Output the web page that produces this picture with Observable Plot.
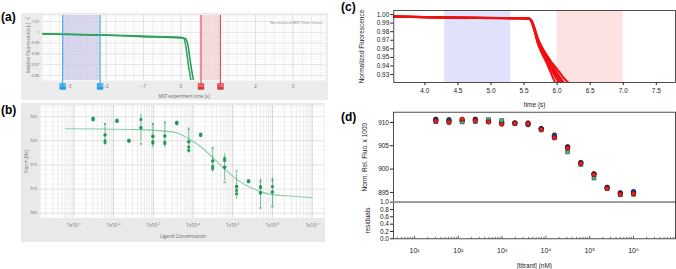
<!DOCTYPE html>
<html><head><meta charset="utf-8">
<script src="https://cdn.jsdelivr.net/npm/d3@7"></script>
<script src="https://cdn.jsdelivr.net/npm/@observablehq/plot@0.6"></script>
<style>
body{margin:0;background:#fff;}
#root{position:relative;width:676px;height:269px;overflow:hidden;background:#fff;}
#root svg{max-width:none !important;height:auto;}
.plabel{position:absolute;font:bold 12px "Liberation Sans",Arial,sans-serif;color:#000;line-height:12px;}
</style></head><body><div id="root"></div>
<script>
// ---------------- Panel (a): normalized MST time traces ----------------
const aTimeA = [-3.7, -3, -2, -1, 0, 0.06, 0.10, 0.13, 0.17, 0.21, 0.25, 0.29, 0.33];
const aValA  = [0.9988, 0.9983, 0.9975, 0.9965, 0.9955, 0.9950, 0.9930, 0.9880, 0.9780, 0.9680, 0.9600, 0.9520, 0.9440];
const aTimeB = [-3.7, -3, -2, -1, 0, 0.12, 0.17, 0.20, 0.24, 0.28, 0.32, 0.37, 0.41];
const aValB  = [0.9985, 0.9980, 0.9972, 0.9960, 0.9948, 0.9944, 0.9910, 0.9860, 0.9760, 0.9670, 0.9590, 0.9510, 0.9440];
const aCold = [-3.16, -2.16];
const aHot = [0.54, 1.06];
const aXTicks = [-3, -2, -1, 0, 1, 2, 3];
const aXLabels = [-3, -2, -1, 0, 2, 3];
const aYTicks = [0.96, 0.97, 0.98, 0.99, 1, 1.01];

// ---------------- Panel (b): dose response (Fnorm) ----------------
const concNM = [30.52, 61.04, 122.1, 244.1, 488.3, 976.6, 1953, 3906, 7813, 15625, 31250, 62500, 125000, 250000, 500000, 1000000];
const bMean = [924.5, 921.2, 924.1, 920.0, 922.7, 920.9, 921.0, 923.7, 919.8, 921.2, 915.8, 914.5, 910.5, 911.6, 909.2, 909.4];
const bErr  = [0.3, 2.1, 0.3, 0.2, 2.8, 2.4, 2.5, 0.4, 2.4, 0.3, 2.4, 2.8, 2.6, 0.2, 2.9, 2.9];
const bReps = [
  [924.7, 924.3], [923.5, 920.0, 919.6], [924.3, 924.0], [920.1, 919.9],
  [924.4, 919.4], [923.5, 919.8, 919.5], [923.8, 919.7, 919.4], [923.8, 923.5],
  [922.5, 918.7, 918.0], [921.4, 921.1], [918.5, 914.7, 914.2], [916.3, 915.9, 911.4],
  [913.7, 909.7, 909.0], [911.7, 911.5], [911.6, 910.5, 910.3, 906.1], [911.8, 910.5, 906.4]
];
const bFitLogC = [0.79, 1.7, 2.7, 3.3, 3.6, 3.9, 4.25, 4.65, 5.1, 5.5, 5.9, 6.35, 7.0];
const bFitVal  = [922.5, 922.45, 922.3, 922.0, 921.6, 920.4, 918.4, 915.3, 912.0, 910.1, 909.0, 908.6, 908.2];
const bXTicks = [1e1, 1e2, 1e3, 1e4, 1e5, 1e6, 1e7];
const bYTicks = [905, 910, 915, 920, 925];

// ---------------- Panel (c): normalized fluorescence traces ----------------
const cTime = [3.53, 4.0, 4.5, 5.0, 5.5, 5.58, 5.62, 5.66, 5.70, 5.75, 5.80, 5.85, 5.90, 5.95, 6.00, 6.05, 6.10, 6.15, 6.20];
const cTr1 = [0.9977, 0.9970, 0.9964, 0.9960, 0.9956, 0.9950, 0.9900, 0.9800, 0.9680, 0.9580, 0.9500, 0.9420, 0.9330, 0.9240, 0.9160, 0.9080, 0.9000, 0.8930, 0.8860];
const cTr2 = [0.9976, 0.9969, 0.9963, 0.9959, 0.9955, 0.9951, 0.9905, 0.9810, 0.9700, 0.9605, 0.9530, 0.9455, 0.9380, 0.9305, 0.9235, 0.9170, 0.9105, 0.9040, 0.8980];
const cTr3 = [0.9978, 0.9971, 0.9965, 0.9961, 0.9957, 0.9952, 0.9910, 0.9820, 0.9715, 0.9620, 0.9550, 0.9480, 0.9410, 0.9345, 0.9280, 0.9220, 0.9160, 0.9100, 0.9045];
const cTr4 = [0.9975, 0.9968, 0.9962, 0.9958, 0.9954, 0.9950, 0.9915, 0.9830, 0.9725, 0.9635, 0.9565, 0.9500, 0.9435, 0.9375, 0.9315, 0.9260, 0.9205, 0.9155, 0.9105];
const cTr5 = [0.9977, 0.9970, 0.9964, 0.9960, 0.9956, 0.9953, 0.9920, 0.9840, 0.9740, 0.9650, 0.9580, 0.9520, 0.9460, 0.9410, 0.9360, 0.9310, 0.9260, 0.9220, 0.9180];
const cGr1 = [0.9976, 0.9969, 0.9963, 0.9959, 0.9955, 0.9951, 0.9907, 0.9815, 0.9708, 0.9612, 0.9540, 0.9468, 0.9395, 0.9325, 0.9258, 0.9195, 0.9132, 0.9070, 0.9012];
const cGr2 = [0.9976, 0.9969, 0.9963, 0.9959, 0.9955, 0.9951, 0.9912, 0.9825, 0.9720, 0.9628, 0.9558, 0.9490, 0.9422, 0.9360, 0.9298, 0.9240, 0.9182, 0.9128, 0.9075];
const cBlueBand = [4.3, 5.3];
const cRedBand = [6.0, 7.0];
const cXTicks = [4.0, 4.5, 5.0, 5.5, 6.0, 6.5, 7.0, 7.5];
const cYTicks = [0.93, 0.94, 0.95, 0.96, 0.97, 0.98, 0.99, 1.00];

// ---------------- Panel (d): binding curves & residuals ----------------
const dBlack = [910.7, 910.4, 910.5, 910.7, 910.2, 909.9, 909.9, 909.9, 908.7, 907.0, 904.8, 901.4, 899.0, 896.1, 894.9, 895.0];
const dBlue  = [910.5, 910.6, 910.3, 910.5, 910.3, 910.1, 909.9, 909.5, 908.6, 907.3, 904.6, 901.3, 898.9, 896.0, 894.8, 895.2];
const dGreen = [910.2, 910.1, 910.1, 910.2, 910.6, 910.4, 909.8, 909.7, 908.4, 906.8, 903.7, 901.0, 898.1, 895.8, 894.5, 894.6];
const dRed   = [910.3, 910.0, 910.7, 910.4, 910.1, 909.6, 909.8, 909.8, 908.5, 906.7, 904.5, 901.2, 898.8, 895.9, 894.6, 894.7];
const dYTicks = [895, 900, 905, 910];
const dResTicks = [0, 0.2, 0.4, 0.6, 0.8, 1.0];
const dXTicks = [1e1, 1e2, 1e3, 1e4, 1e5, 1e6];

// ---------------- helpers ----------------
const root = document.getElementById("root");
function place(el, left, top, w, h) {
  el.style.position = "absolute"; el.style.left = left + "px"; el.style.top = top + "px";
  el.style.width = w + "px"; el.style.height = h + "px";
  root.appendChild(el);
}
function plabel(t, left, top) {
  const d = document.createElement("div"); d.className = "plabel"; d.textContent = t;
  d.style.left = left + "px"; d.style.top = top + "px"; root.appendChild(d);
}
const supMap = {"0":"⁰","1":"¹","2":"²","3":"³","4":"⁴","5":"⁵","6":"⁶","7":"⁷","8":"⁸","9":"⁹","+":"⁺","-":"⁻"};
const sup = s => String(s).split("").map(c => supMap[c] || c).join("");
function logMinors(e0, e1) {
  const out = [];
  for (let e = e0; e <= e1; e++) for (let k = 2; k <= 9; k++) out.push(k * Math.pow(10, e));
  return out;
}
const zip = (xs, ys) => xs.map((x, i) => ({x, y: ys[i]}));

// ---------------- Panel (a) ----------------
const aGreen = "#1f9a52";
const aPlot = Plot.plot({
  width: 307, height: 87, marginLeft: 21, marginRight: 3, marginTop: 2, marginBottom: 20,
  x: {domain: [-3.7, 3.87]},
  y: {domain: [0.9554, 1.0156]},
  style: {background: "#ececec", fontFamily: "'Open Sans', 'Noto Sans', sans-serif", fontSize: "4px", color: "#666", overflow: "visible"},
  marks: [
    Plot.frame({fill: "white", stroke: null}),
    Plot.gridX(d3.range(-3.5, 3.9, 0.25), {stroke: "#e2e2e2", strokeOpacity: 1, strokeWidth: 0.6}),
    Plot.gridY(d3.range(0.9575, 1.016, 0.0025), {stroke: "#ececec", strokeOpacity: 1, strokeWidth: 0.5}),
    Plot.gridY(aYTicks, {stroke: "#d6d6d6", strokeOpacity: 1, strokeWidth: 0.6}),
    Plot.gridX(aXTicks, {stroke: "#d6d6d6", strokeOpacity: 1, strokeWidth: 0.6}),
    Plot.rect([{x1: aCold[0], x2: aCold[1]}], {x1: "x1", x2: "x2", fill: "#cfcde9", fillOpacity: 0.8}),
    Plot.rect([{x1: aHot[0], x2: aHot[1]}], {x1: "x1", x2: "x2", fill: "#f3d5d7", fillOpacity: 0.8}),
    Plot.line(zip(aTimeB, aValB), {x: "x", y: "y", stroke: aGreen, strokeWidth: 1.5, clip: true, curve: "monotone-x"}),
    Plot.line(zip(aTimeA, aValA), {x: "x", y: "y", stroke: "#2aa35c", strokeWidth: 1.5, clip: true, curve: "monotone-x"}),
    Plot.ruleX(aCold, {stroke: "#3fa6e3", strokeWidth: 1.1, insetBottom: -4}),
    Plot.ruleX(aHot, {stroke: "#dc4e52", strokeWidth: 1.1, insetBottom: -4}),
    Plot.axisY(aYTicks, {tickSize: 0, tickPadding: 3.2, tickFormat: d3.format("~g"), fontSize: 4}),
    Plot.axisY({ticks: [], tickSize: 0, label: "Relative Fluorescence [-]", labelAnchor: "center", labelArrow: "none", labelOffset: 15.8, fontSize: 4.5}),
    Plot.axisX(aXLabels, {tickSize: 0, tickPadding: 4, label: "MST experiment time [s]", labelAnchor: "center", labelArrow: "none", labelOffset: 17, fontSize: 4.5}),
    Plot.dot(aCold, {x: d => d, frameAnchor: "bottom", dy: 6, symbol: "square", r: 3.6, fill: "#1e9ce4"}),
    Plot.dot(aHot, {x: d => d, frameAnchor: "bottom", dy: 6, symbol: "square", r: 3.6, fill: "#d8343c"}),
    Plot.text(aCold, {x: d => d, text: d => d.toFixed(2), frameAnchor: "bottom", dy: 6, fontSize: 2.6, fill: "#eaf6ff"}),
    Plot.text(aHot, {x: d => d, text: d => d.toFixed(2), frameAnchor: "bottom", dy: 6, fontSize: 2.6, fill: "#ffecec"}),
    Plot.text(["Normalized MST time traces"], {frameAnchor: "top-right", dx: -3, dy: 6, fontSize: 4, fill: "#888"})
  ]
});
place(aPlot, 21, 13, 307, 87);

// ---------------- Panel (b) ----------------
const bGreen = "#1e9a55";
const bCols = concNM.map((c, i) => ({c, m: bMean[i], e: bErr[i]}));
const bRepPts = concNM.flatMap((c, i) => bReps[i].map(v => ({c, v, far: Math.abs(v - bMean[i]) > 1.8})));
const bPlot = Plot.plot({
  width: 304, height: 139, marginLeft: 19, marginRight: 0, marginTop: 2, marginBottom: 24.7,
  x: {type: "log", domain: [Math.pow(10, 0.161), Math.pow(10, 7.335)]},
  y: {domain: [904.05, 927.3]},
  style: {background: "#e9e9e9", fontFamily: "'Open Sans', 'Noto Sans', sans-serif", fontSize: "4px", color: "#666", overflow: "visible"},
  marks: [
    Plot.frame({fill: "white", stroke: null}),
    Plot.gridY(d3.range(905, 928, 1), {stroke: "#ececec", strokeOpacity: 1, strokeWidth: 0.5}),
    Plot.gridY(bYTicks, {stroke: "#d8d8d8", strokeOpacity: 1, strokeWidth: 0.6}),
    Plot.gridX(logMinors(0, 7).filter(v => v < Math.pow(10, 7.335)), {stroke: "#dedede", strokeOpacity: 1, strokeWidth: 0.6}),
    Plot.gridX(bXTicks, {stroke: "#c4c4c4", strokeOpacity: 1, strokeWidth: 0.7}),
    Plot.line(zip(bFitLogC, bFitVal), {x: d => Math.pow(10, d.x), y: "y", stroke: "#84cfa9", strokeWidth: 1.1, curve: "natural"}),
    Plot.ruleX(bCols, {x: "c", y1: d => d.m - d.e, y2: d => d.m + d.e, stroke: bGreen, strokeWidth: 0.6}),
    Plot.dot(bRepPts, {x: "c", y: "v", symbol: d => d.far ? "times" : "square", r: 1.15, fill: bGreen, stroke: bGreen, strokeWidth: 0.7}),
    Plot.dot(bCols, {x: "c", y: "m", r: 1.8, fill: bGreen}),
    Plot.axisY(bYTicks, {tickSize: 0, tickPadding: 3.5, fontSize: 4}),
    Plot.axisY({ticks: [], tickSize: 0, label: "Fnorm [‰]", labelAnchor: "center", labelArrow: "none", labelOffset: 15.5, fontSize: 4.5}),
    Plot.axisX(bXTicks, {tickSize: 0, tickPadding: 6, tickFormat: d => "1x10" + sup("+" + Math.round(Math.log10(d))), label: "Ligand Concentration", labelAnchor: "center", labelArrow: "none", labelOffset: 19.7, fontSize: 4.6})
  ]
});
place(bPlot, 21, 103, 304, 139);

// ---------------- Panel (c) ----------------
const cGray = [cGr1, cGr2].flatMap((tr, k) => tr.map((v, i) => ({t: cTime[i], v, k})));
const cRed = [cTr1, cTr2, cTr3, cTr4, cTr5].flatMap((tr, k) => tr.map((v, i) => ({t: cTime[i], v, k})));
const cPlot = Plot.plot({
  width: 331, height: 110, marginLeft: 48.3, marginRight: 1, marginTop: 10, marginBottom: 28,
  x: {domain: [3.53, 7.79]},
  y: {domain: [0.9207, 1.0047]},
  style: {background: "transparent", fontFamily: "'Liberation Sans', Arial, sans-serif", fontSize: "6.5px", color: "#222", overflow: "visible"},
  marks: [
    Plot.rect([{x1: cBlueBand[0], x2: cBlueBand[1]}], {x1: "x1", x2: "x2", fill: "#e1e1fb"}),
    Plot.rect([{x1: cRedBand[0], x2: cRedBand[1]}], {x1: "x1", x2: "x2", fill: "#fde2e2"}),
    Plot.line(cGray, {x: "t", y: "v", z: "k", stroke: "#6f8196", strokeWidth: 1.4, clip: true, curve: "monotone-x"}),
    Plot.line(cRed, {x: "t", y: "v", z: "k", stroke: "#f01010", strokeWidth: 2.1, clip: true, curve: "monotone-x"}),
    Plot.frame({stroke: "#222", strokeWidth: 0.8}),
    Plot.axisY(cYTicks, {tickSize: 3, tickPadding: 1.5, tickFormat: d3.format(".2f"), label: "Normalized Fluorescence", labelAnchor: "center", labelArrow: "none", labelOffset: 34, fill: "#222"}),
    Plot.axisX(cXTicks, {tickSize: 3, tickPadding: 3, tickFormat: d3.format(".1f"), label: "time (s)", labelAnchor: "center", labelArrow: "none", labelOffset: 24.5, fill: "#222"})
  ]
});
place(cPlot, 345, 0, 331, 110);

// ---------------- Panel (d) top ----------------
const dSeries = (vals, s) => concNM.map((c, i) => ({c, v: vals[i], s}));
const dX = {type: "log", domain: [3.3, 9.1e6]};
const dTop = Plot.plot({
  width: 331, height: 94, marginLeft: 48, marginRight: 1, marginTop: 3.7, marginBottom: 0.3,
  x: {...dX, axis: null},
  y: {domain: [892.9, 912.2]},
  style: {background: "transparent", fontFamily: "'Liberation Sans', Arial, sans-serif", fontSize: "6.5px", color: "#222", overflow: "visible"},
  marks: [
    Plot.frame({stroke: "#222", strokeWidth: 0.8}),
    Plot.dot(dSeries(dBlack, "k"), {x: "c", y: "v", r: 2.3, fill: "#111", stroke: "#000", strokeWidth: 0.5}),
    Plot.dot(dSeries(dBlue, "b"), {x: "c", y: "v", r: 2.3, fill: "#3b2ca8", stroke: "#111", strokeWidth: 0.5}),
    Plot.dot(dSeries(dGreen, "g"), {x: "c", y: "v", symbol: "square", r: 2.2, fill: "#4dbb8a", stroke: "#1b3b2b", strokeWidth: 0.6}),
    Plot.dot(dSeries(dRed, "r"), {x: "c", y: "v", r: 2.3, fill: "#ee1c1c", stroke: "#4a0a0a", strokeWidth: 0.5}),
    Plot.axisY(dYTicks, {tickSize: 3, tickPadding: 1.5, label: "Norm. Rel. Fluo. x 1000", labelAnchor: "center", labelArrow: "none", labelOffset: 31.3, fill: "#222"})
  ]
});
place(dTop, 345, 108, 331, 94);

// ---------------- Panel (d) residuals ----------------
const dRes = Plot.plot({
  width: 331, height: 69, marginLeft: 48, marginRight: 1, marginTop: 1.7, marginBottom: 30.7,
  x: dX,
  y: {domain: [0, 1]},
  style: {background: "transparent", fontFamily: "'Liberation Sans', Arial, sans-serif", fontSize: "6.5px", color: "#222", overflow: "visible"},
  marks: [
    Plot.frame({stroke: "#222", strokeWidth: 0.8}),
    Plot.ruleX(logMinors(0, 6).filter(v => v > 3.3 && v < 9.1e6), {y1: 0, y2: 0.04, stroke: "#222", strokeWidth: 0.6}),
    Plot.ruleX(dXTicks, {y1: 0, y2: 0.07, stroke: "#222", strokeWidth: 0.7}),
    Plot.ruleY([1], {stroke: "#999", strokeWidth: 1.6}),
    Plot.axisY(dResTicks, {tickSize: 3, tickPadding: 1.5, tickFormat: d3.format(".1f"), label: "residuals", labelAnchor: "center", labelArrow: "none", labelOffset: 28, fill: "#222"}),
    Plot.axisX(dXTicks, {tickSize: 0, tickPadding: 9, tickFormat: d => "10" + sup(Math.round(Math.log10(d))), fontSize: 7, fill: "#222"}),
    Plot.axisX({ticks: [], tickSize: 0, label: "[titrant] (nM)", labelAnchor: "center", labelArrow: "none", labelOffset: 29, fontSize: 6.5, fill: "#222"})
  ]
});
place(dRes, 345, 200, 331, 69);

plabel("(a)", 1, 11);
plabel("(b)", 1, 104);
plabel("(c)", 341, 1);
plabel("(d)", 341, 111);
</script></body></html>
